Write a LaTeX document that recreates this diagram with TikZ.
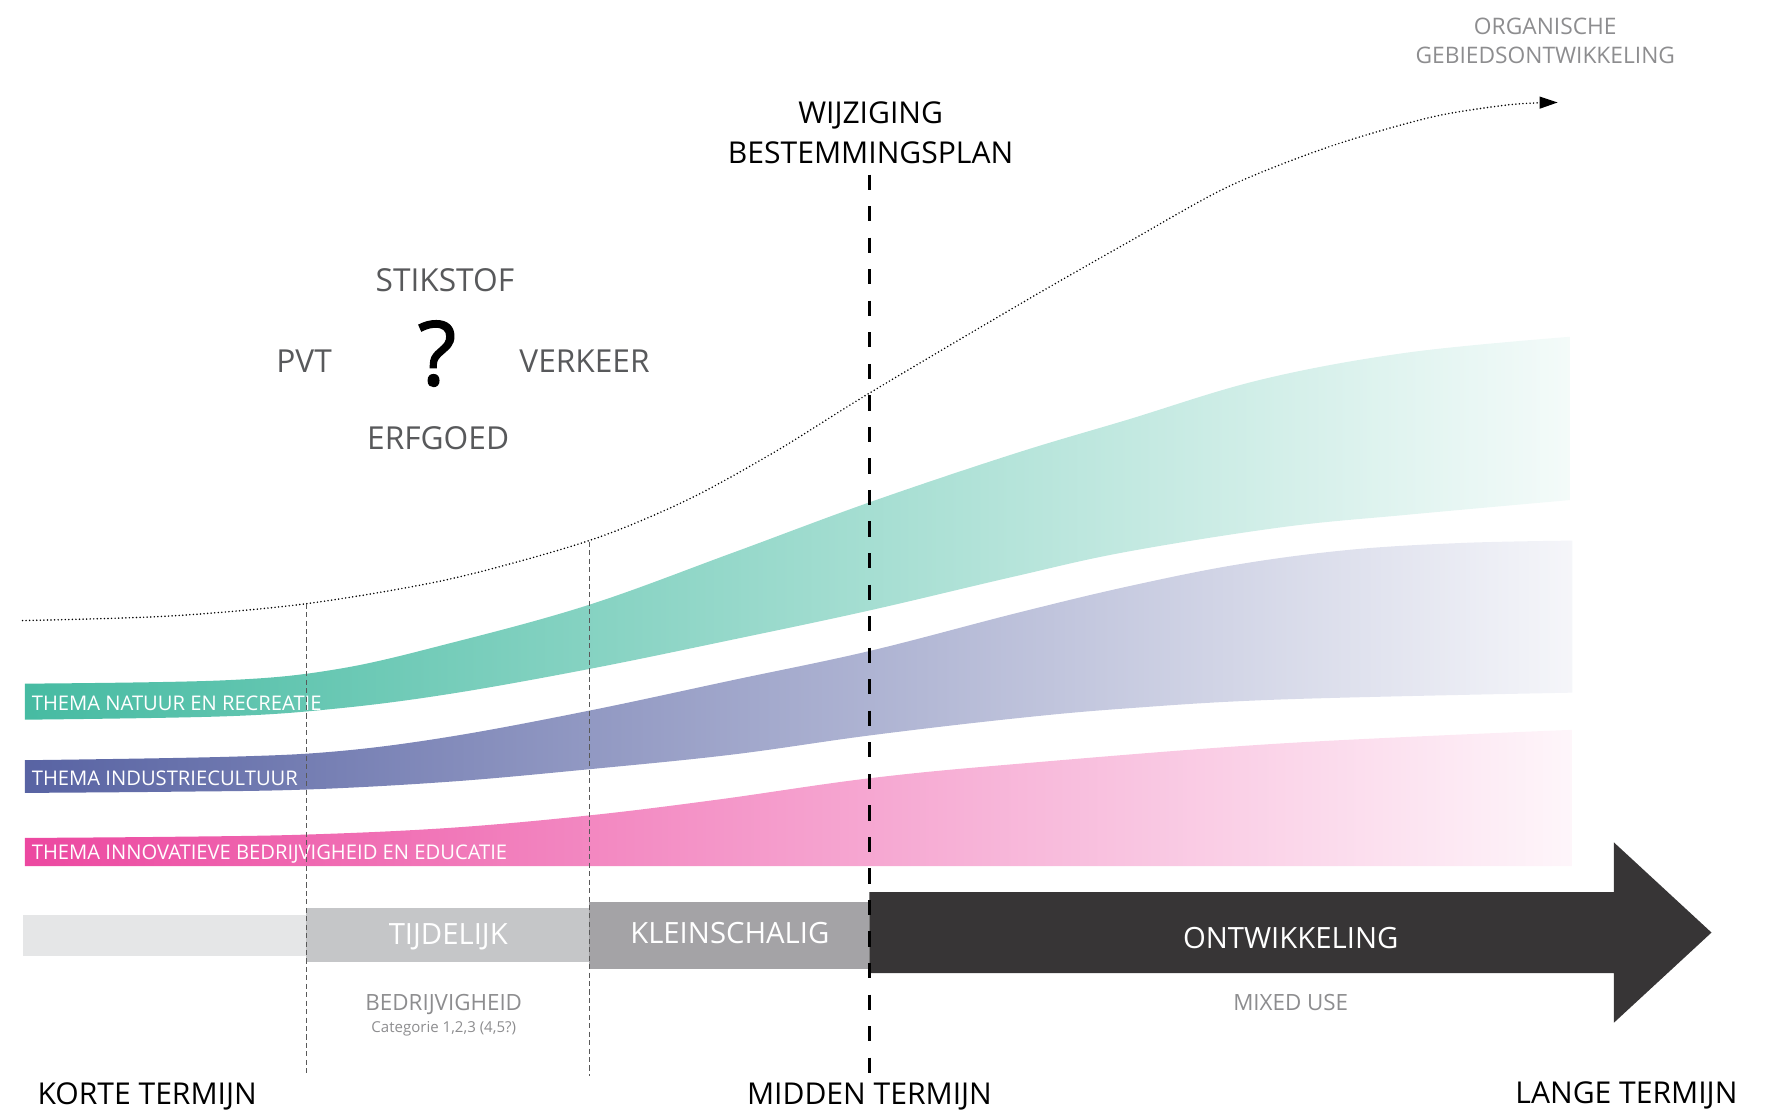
\documentclass[tikz,border=0pt]{standalone}
\usepackage{fontspec}
\setmainfont{Open Sans}
\newfontfamily\vetletter[FakeBold=1.6]{Open Sans}
\usetikzlibrary{arrows.meta, calc, positioning}

\definecolor{natuur}{RGB}{70,187,162}
\definecolor{industrie}{RGB}{88,99,163}
\definecolor{innovatie}{RGB}{236,72,160}
\definecolor{balkleeg}{RGB}{229,230,231}
\definecolor{balktijdelijk}{RGB}{197,198,200}
\definecolor{balkklein}{RGB}{164,163,166}
\definecolor{balkdonker}{RGB}{55,53,54}
\definecolor{donkergrijs}{RGB}{88,89,91}
\definecolor{middengrijs}{RGB}{141,141,143}

\newcommand{\lettergrootte}[1]{\fontsize{#1}{#1}\selectfont}

\begin{document}
\begin{tikzpicture}[x=0.2mm, y=-0.2mm,
  kop/.style={anchor=base, inner sep=0pt, font=\lettergrootte{15.2}},
  vraag/.style={anchor=base, inner sep=0pt, text=donkergrijs, font=\lettergrootte{16}},
  themalabel/.style={anchor=base west, inner sep=0pt, text=white, font=\lettergrootte{10.2}},
  balktekst/.style={anchor=base, inner sep=0pt, text=white, font=\lettergrootte{14.8}},
  onderschrift/.style={anchor=base, inner sep=0pt, text=middengrijs, font=\lettergrootte{11.3}},
  fijnstreep/.style={draw=black!65, line width=0.5pt, dash pattern=on 0.9mm off 0.6mm},
  grofstreep/.style={draw=black, line width=2pt, dash pattern=on 2.7mm off 2.9mm},
  stippel/.style={line width=0.85pt, line cap=round, dash pattern=on 0pt off 1.8pt,
    -{Triangle[length=3.2mm,width=2.1mm]}}]

  \useasboundingbox (0,0) rectangle (1568,989);

  % Thema's
  \shade[left color=natuur, right color=natuur!6]
    plot[smooth, tension=0.6] coordinates {(22,607) (200,604) (300,594) (400,571) (523,537)
      (650,491) (772,446) (900,403) (1000,373) (1120,337) (1250,313) (1394,299)}
    -- plot[smooth, tension=0.6] coordinates {(1394,444) (1250,457) (1139,468) (1000,490)
      (900,512) (772,542) (650,568) (523,594) (400,616) (300,629) (200,636) (22,639)}
    -- cycle;
  \shade[left color=industrie, right color=industrie!6]
    plot[smooth, tension=0.6] coordinates {(22,675) (200,672) (300,667) (400,654) (523,631)
      (650,604) (772,578) (900,545) (1000,521) (1100,501) (1200,488) (1300,482) (1396,480)}
    -- plot[smooth, tension=0.6] coordinates {(1396,615) (1139,621) (1000,629) (900,638)
      (772,653) (650,670) (523,683) (400,694) (272,701) (150,703) (22,704)}
    -- cycle;
  \shade[left color=innovatie, right color=innovatie!5]
    plot[smooth, tension=0.6] coordinates {(22,744) (150,743) (272,741) (400,735) (523,724)
      (637,710) (772,691) (906,678) (1139,660) (1396,648)}
    -- (1396,769) -- (22,769) -- cycle;

  \node[themalabel] (natuur) at (28,630.5) {THEMA NATUUR EN RECREATIE};
  \node[themalabel] (industrie) at (28,697) {THEMA INDUSTRIECULTUUR};
  \node[themalabel] (innovatie) at (28,763.5) {THEMA INNOVATIEVE BEDRIJVIGHEID EN EDUCATIE};

  % Balken
  \fill[balkleeg] (20,812) rectangle (272,849);
  \fill[balktijdelijk] (272,806.5) rectangle (523,854.5);
  \fill[balkklein] (523,800.5) rectangle (772,860.5);
  \fill[balkdonker] (772,792) -- (1433,792) -- (1433,748) -- (1519.6,828)
    -- (1433,908) -- (1433,864) -- (772,864) -- cycle;

  \node[balktekst] (tijdelijk) at (398,839) {TIJDELIJK};
  \node[balktekst] (kleinschalig) at (648,837.5) {KLEINSCHALIG};
  \node[balktekst] (ontwikkeling) at (1146,842) {ONTWIKKELING};
  \node[onderschrift] (mixed) at (1146,897) {MIXED USE};
  \node[onderschrift] (bedrijvigheid) at (394,897.5) {BEDRIJVIGHEID};
  \node[onderschrift, font=\lettergrootte{7.6}] (categorie) at (394,917) {Categorie 1,2,3 (4,5?)};

  % Groeicurve
  \draw[stippel] plot[smooth, tension=0.5] coordinates {(20,551) (150,547) (272,536) (400,514)
    (523,480) (610,444) (690,400) (772,349) (909,268) (1000,216) (1090,166) (1181,130)
    (1271,104) (1340,93) (1383,91)};

  \node[kop, text=middengrijs, font=\lettergrootte{11.5}] (organisch) at (1372,31) {ORGANISCHE};
  \node[kop, text=middengrijs, font=\lettergrootte{11.5}] (gebied) at (1372,56.8) {GEBIEDSONTWIKKELING};

  % Wijziging bestemmingsplan
  \node[kop] (wijziging) at (773,109.5) {WIJZIGING};
  \node[kop] (bestemming) at (773,145) {BESTEMMINGSPLAN};

  % Onzekerheden
  \node[vraag] (stikstof) at (395,259) {STIKSTOF};
  \node[vraag] (pvt) at (270,331) {PVT};
  \node[vraag] (verkeer) at (519,331) {VERKEER};
  \node[vraag] (erfgoed) at (389,399) {ERFGOED};
  \node[kop, font=\vetletter\lettergrootte{45}] (vraagteken) at (388,342) {?};

  % Tijdsmarkeringen
  \coordinate (kort) at (272,536);
  \coordinate (kortonder) at (272,955);
  \coordinate (klein) at (523,481);
  \coordinate (kleinonder) at (523,955);
  \coordinate (wijz) at (772,155);
  \coordinate (wijzonder) at (772,955);
  \draw[fijnstreep] (kort) -- (kortonder);
  \draw[fijnstreep] (klein) -- (kleinonder);
  \draw[grofstreep] (wijz) -- (wijzonder);

  \node[kop, anchor=base west] (korte) at (33,981) {KORTE TERMIJN};
  \node[kop] (midden) at (772,981) {MIDDEN TERMIJN};
  \node[kop, anchor=base east] (lange) at (1543,980) {LANGE TERMIJN};
\end{tikzpicture}
\end{document}
